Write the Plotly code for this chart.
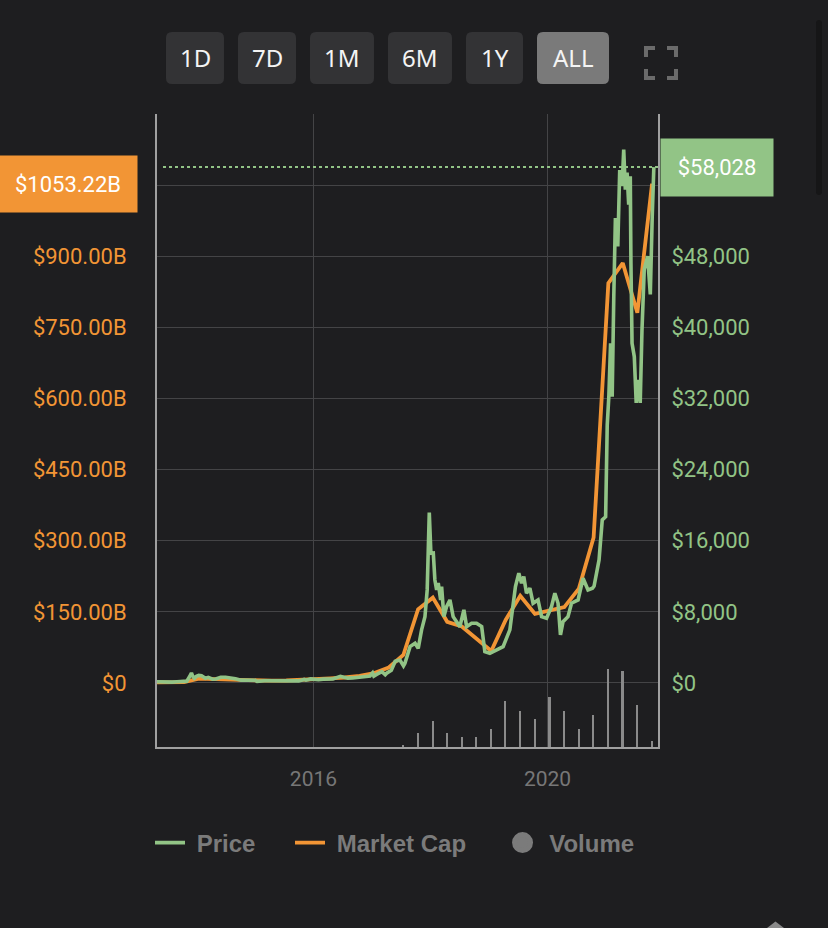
import plotly.graph_objects as go

# ---------------- data ----------------
price_dates = [
    "2013-04-28", "2013-05-20", "2013-06-15", "2013-07-05", "2013-08-01", "2013-09-01", "2013-10-01",
    "2013-11-01", "2013-11-18", "2013-11-30", "2013-12-07", "2013-12-18", "2013-12-31", "2014-01-15",
    "2014-02-01", "2014-02-25", "2014-03-15", "2014-04-11", "2014-05-01", "2014-06-01", "2014-07-01",
    "2014-08-01", "2014-09-01", "2014-10-05", "2014-11-01", "2014-12-01", "2015-01-01", "2015-01-14",
    "2015-02-01", "2015-03-01", "2015-04-01", "2015-05-01", "2015-06-01", "2015-07-01", "2015-08-01",
    "2015-08-24", "2015-09-01", "2015-10-01", "2015-11-04", "2015-11-15", "2015-12-15", "2016-01-15",
    "2016-02-01", "2016-03-01", "2016-04-01", "2016-05-01", "2016-06-17", "2016-07-01", "2016-08-02",
    "2016-09-01", "2016-10-01", "2016-11-01", "2016-12-01", "2016-12-19", "2017-01-04", "2017-01-12",
    "2017-02-01", "2017-03-03", "2017-03-24", "2017-04-02", "2017-05-01", "2017-05-25", "2017-06-24",
    "2017-07-16", "2017-07-25", "2017-08-26", "2017-09-26", "2017-10-16", "2017-11-06", "2017-11-27",
    "2017-12-11", "2017-12-24", "2018-01-03", "2018-01-18", "2018-01-28", "2018-02-08", "2018-02-18",
    "2018-03-05", "2018-03-11", "2018-03-25", "2018-04-11", "2018-05-02", "2018-05-22", "2018-06-16",
    "2018-07-03", "2018-07-28", "2018-08-14", "2018-09-14", "2018-10-15", "2018-11-16", "2018-12-06",
    "2019-01-06", "2019-02-17", "2019-03-30", "2019-05-11", "2019-06-15", "2019-07-06", "2019-07-23",
    "2019-08-06", "2019-08-23", "2019-09-13", "2019-10-03", "2019-11-03", "2019-11-25", "2019-12-26",
    "2020-01-26", "2020-02-16", "2020-03-07", "2020-03-22", "2020-04-07", "2020-05-08", "2020-05-30",
    "2020-07-10", "2020-08-10", "2020-09-10", "2020-10-08", "2020-10-18", "2020-11-18", "2020-12-08",
    "2020-12-29", "2021-01-08", "2021-01-18", "2021-01-29", "2021-02-08", "2021-02-18", "2021-02-28",
    "2021-03-15", "2021-03-27", "2021-04-11", "2021-04-21", "2021-05-01", "2021-05-12", "2021-05-22",
    "2021-06-01", "2021-06-05", "2021-06-12", "2021-06-26", "2021-07-08", "2021-07-19", "2021-08-02",
    "2021-08-13", "2021-08-27", "2021-09-17", "2021-10-04", "2021-10-16", "2021-10-26",
]
price_values = [
    135, 122, 100, 70, 97, 140, 125,
    205, 700, 1130, 800, 520, 740, 850,
    820, 540, 630, 420, 450, 640, 640,
    590, 480, 320, 330, 380, 315, 180,
    225, 260, 245, 235, 225, 260, 280,
    210, 230, 237, 400, 320, 460, 380,
    370, 435, 417, 450, 750, 670, 545,
    570, 610, 730, 755, 790, 1130, 780,
    990, 1280, 930, 1100, 1420, 2450, 2590,
    1930, 2220, 4090, 4470, 3900, 5970, 7460,
    10470, 19170, 14600, 14630, 11590, 10470, 11260,
    9340, 10840, 7460, 8590, 9340, 7460, 6720,
    6340, 8220, 6340, 6720, 6720, 6340, 3520,
    3340, 3710, 4090, 5970, 10840, 12350, 11220,
    11960, 10100, 10660, 8970, 9340, 7460, 7280,
    8590, 10100, 8970, 5400, 6900, 7460, 8970,
    9340, 11780, 10470, 10660, 10900, 13840, 18350,
    18700, 29000, 32200, 38200, 32200, 43500, 52300,
    49100, 57700, 55900, 60000, 55500, 57400, 53800,
    57000, 47300, 38200, 36700, 31500, 34100, 31500,
    39700, 46500, 48000, 43700, 52500, 58028,
]

mcap_dates = [
    "2013-04-28", "2013-07-15", "2013-10-15", "2014-01-15", "2014-04-15", "2014-07-15", "2014-10-15",
    "2015-01-15", "2015-04-15", "2015-07-15", "2015-10-15", "2016-01-15", "2016-04-15", "2016-07-15",
    "2016-10-15", "2017-01-15", "2017-04-15", "2017-07-15", "2017-10-15", "2018-01-15", "2018-04-15",
    "2018-07-15", "2018-10-15", "2019-01-15", "2019-04-15", "2019-07-15", "2019-10-15", "2020-01-15",
    "2020-04-15", "2020-07-15", "2020-10-15", "2021-01-15", "2021-04-15", "2021-07-15", "2021-10-15",
]
mcap_values_b = [
    1.5, 1.1, 2.0, 9.0, 7.8, 7.8, 5.9,
    4.8, 4.8, 5.2, 6.3, 8.4, 9.9, 11.6,
    14.8, 21.0, 32.7, 59.0, 155.5, 180.0, 129.0,
    119.0, 93.0, 67.5, 133.0, 184.0, 145.6, 153.0,
    160.0, 199.0, 307.0, 843.0, 885.6, 781.0, 1053.22,
]

volume_dates = [
    "2017-07-15", "2017-10-15", "2018-01-15", "2018-04-15", "2018-07-15", "2018-10-15",
    "2019-01-15", "2019-04-15", "2019-07-15", "2019-10-15", "2020-01-15", "2020-04-15",
    "2020-07-15", "2020-10-15", "2021-01-15", "2021-04-15", "2021-07-15", "2021-10-15",
]
volume_values_b = [2, 14, 26, 14, 10, 10, 18, 46, 36, 28, 50, 36, 18, 32, 78, 76, 42, 6]

left_tick_vals = [0, 150, 300, 450, 600, 750, 900, 1050, 1200]
left_tick_text = ["$0", "$150.00B", "$300.00B", "$450.00B", "$600.00B", "$750.00B", "$900.00B", "", ""]
right_tick_vals = [0, 8000, 16000, 24000, 32000, 40000, 48000, 56000]
right_tick_text = ["$0", "$8,000", "$16,000", "$24,000", "$32,000", "$40,000", "$48,000", ""]
x_tick_vals = ["2016-01-01", "2020-01-01"]
x_tick_text = ["2016", "2020"]
range_buttons = ["1D", "7D", "1M", "6M", "1Y", "ALL"]
active_button = "ALL"
legend_names = ["Price", "Market Cap", "Volume"]
last_price = 58028
last_mcap_b = 1053.22

# ---------------- style ----------------
BG = "#1e1e20"
GREEN = "#92c486"
ORANGE = "#f29535"
GRID = "#444446"
AXIS = "#a0a0a0"
VOL = "#8a8a8a"
LEG = "#7b7b7b"
NB = "\u00a0"
TH = "\u2009"

W, H = 828, 928
L, R, T, B = 157, 658, 114, 747


def px(x):
    return (x - L) / (R - L)


def py(y):
    return (B - y) / (B - T)


def rrect(x0, y0, x1, y1, r):
    pts = [
        ("M", x0 + r, y0), ("L", x1 - r, y0), ("Q", x1, y0, x1, y0 + r),
        ("L", x1, y1 - r), ("Q", x1, y1, x1 - r, y1), ("L", x0 + r, y1),
        ("Q", x0, y1, x0, y1 - r), ("L", x0, y0 + r), ("Q", x0, y0, x0 + r, y0),
    ]
    s = ""
    for p in pts:
        if p[0] == "Q":
            s += f"Q{px(p[1]):.5f},{py(p[2]):.5f} {px(p[3]):.5f},{py(p[4]):.5f} "
        else:
            s += f"{p[0]}{px(p[1]):.5f},{py(p[2]):.5f} "
    return s + "Z"


fig = go.Figure()

fig.add_trace(go.Bar(
    x=volume_dates, y=volume_values_b, yaxis="y3", name=legend_names[2],
    marker=dict(color=VOL, line=dict(width=0)), width=10 * 86400000,
    showlegend=False, hoverinfo="skip",
))
fig.add_trace(go.Scatter(
    x=price_dates, y=price_values, yaxis="y2", name=NB + legend_names[0] + NB * 3 + TH * 2, mode="lines",
    line=dict(color=GREEN, width=3.6),
))
fig.add_trace(go.Scatter(
    x=mcap_dates, y=mcap_values_b, yaxis="y", name=NB + legend_names[1] + NB * 4 + TH, mode="lines",
    line=dict(color=ORANGE, width=3.8),
))
fig.add_trace(go.Scatter(
    x=[None], y=[None], name=NB + legend_names[2], mode="markers",
    marker=dict(color=LEG, size=16, symbol="circle", line=dict(color=LEG, width=5)),
))

shapes = []
annotations = []

# range buttons
btn_x = [(166, 224), (238, 296), (310, 374), (388, 452), (466, 523), (537, 609)]
for label, (x0, x1) in zip(range_buttons, btn_x):
    col = "#7a7a7a" if label == active_button else "#333335"
    shapes.append(dict(type="path", xref="paper", yref="paper", path=rrect(x0, 32, x1, 84, 6),
                       fillcolor=col, line=dict(width=0), layer="above"))
    annotations.append(dict(xref="paper", yref="paper", x=px((x0 + x1) / 2), y=py(58),
                            text=label, showarrow=False, xanchor="center", yanchor="middle",
                            font=dict(family="Noto Sans", size=24, color="#f4f4f4")))

# fullscreen icon
ic = "#6b6b6b"
for (ax, ay, dx, dy) in [(646, 48, 1, 1), (676, 48, -1, 1), (646, 78, 1, -1), (676, 78, -1, -1)]:
    p = f"M{px(ax):.5f},{py(ay + 9 * dy):.5f} L{px(ax):.5f},{py(ay):.5f} L{px(ax + 9 * dx):.5f},{py(ay):.5f}"
    shapes.append(dict(type="path", xref="paper", yref="paper", path=p,
                       line=dict(color=ic, width=4), layer="above"))

# scrollbar and corner glyph of the page
shapes.append(dict(type="path", xref="paper", yref="paper", path=rrect(816, 20, 822, 195, 3),
                   fillcolor="#161617", line=dict(width=0), layer="above"))
shapes.append(dict(type="path", xref="paper", yref="paper",
                   path=f"M{px(767):.5f},{py(928):.5f} L{px(775.5):.5f},{py(921.5):.5f} L{px(784):.5f},{py(928):.5f} Z",
                   fillcolor="#8a8a8a", line=dict(width=0), layer="above"))

# dotted last-price line
shapes.append(dict(type="line", xref="paper", yref="y2", x0=px(163), x1=1.0, y0=last_price, y1=last_price,
                   line=dict(color=GREEN, width=2, dash="dot"), layer="above"))

# last-value badges
annotations.append(dict(xref="paper", yref="y", x=px(138), y=last_mcap_b, xanchor="right", yanchor="middle",
                        text=f"${last_mcap_b:.2f}B", showarrow=False, bgcolor=ORANGE, width=130, height=48,
                        borderpad=4, font=dict(family="Roboto", size=22, color="#ffffff")))
annotations.append(dict(xref="paper", yref="y2", x=px(660), y=last_price, xanchor="left", yanchor="middle",
                        text=f"${last_price:,}", showarrow=False, bgcolor=GREEN, width=104, height=49,
                        borderpad=4, font=dict(family="Roboto", size=22, color="#ffffff")))

fig.update_layout(
    width=W, height=H,
    margin=dict(l=L, r=W - R, t=T, b=H - B, pad=0),
    paper_bgcolor=BG, plot_bgcolor=BG,
    font=dict(family="Roboto", color="#cccccc"),
    xaxis=dict(
        type="date", range=["2013-04-29", "2021-11-21"],
        tickvals=x_tick_vals, ticktext=x_tick_text,
        showgrid=True, gridcolor=GRID, gridwidth=1,
        showline=True, linecolor=AXIS, linewidth=2,
        ticks="", ticklabelstandoff=12,
        tickfont=dict(family="Roboto", size=21, color="#777777"),
        zeroline=False, fixedrange=True,
    ),
    yaxis=dict(
        range=[-135, 1200], tickvals=left_tick_vals, ticktext=left_tick_text,
        showgrid=True, gridcolor=GRID, gridwidth=1,
        showline=True, linecolor=AXIS, linewidth=2,
        ticks="", ticklabelstandoff=24,
        tickfont=dict(family="Roboto", size=22, color=ORANGE),
        zeroline=False, fixedrange=True,
    ),
    yaxis2=dict(
        range=[-7200, 64000], overlaying="y", side="right",
        tickvals=right_tick_vals, ticktext=right_tick_text,
        showgrid=False, showline=True, linecolor=AXIS, linewidth=2,
        ticks="", ticklabelstandoff=7,
        tickfont=dict(family="Roboto", size=22, color=GREEN),
        zeroline=False, fixedrange=True,
    ),
    yaxis3=dict(range=[0, B - T], overlaying="y", visible=False, fixedrange=True),
    showlegend=True,
    legend=dict(
        orientation="h", x=px(150), xanchor="left", y=py(843), yanchor="middle",
        font=dict(family="Liberation Sans", size=24, color=LEG, weight="bold"),
        bgcolor="rgba(0,0,0,0)", itemclick=False, itemdoubleclick=False,
        traceorder="normal",
    ),
    bargap=0,
    shapes=shapes,
    annotations=annotations,
)

fig.write_html("out.html", config={"displayModeBar": False},
               post_script="document.body.style.margin='0';document.body.style.overflow='hidden';")
